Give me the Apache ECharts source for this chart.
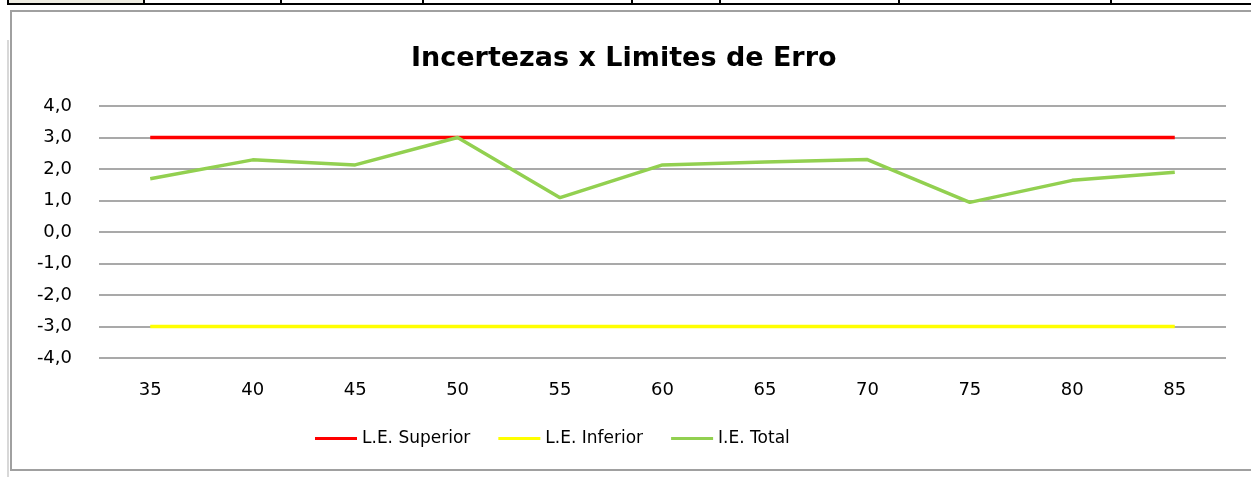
<!DOCTYPE html>
<html>
<head>
<meta charset="utf-8">
<style>
html,body{margin:0;padding:0;background:#fff;}
#main{width:1251px;height:477px;}
</style>
<script src="https://cdn.jsdelivr.net/npm/echarts@6/dist/echarts.min.js"></script>
</head>
<body>
<div id="main"></div>
<script>
var categories = ['35','40','45','50','55','60','65','70','75','80','85'];
var leSuperior = [3,3,3,3,3,3,3,3,3,3,3];
var leInferior = [-3,-3,-3,-3,-3,-3,-3,-3,-3,-3,-3];
var ieTotal = [1.69,2.29,2.13,3.0,1.09,2.13,2.22,2.30,0.94,1.64,1.90];
var cellDividers = [8,144,281,423,632,720,899,1111];

var font = 'DejaVu Sans';
var myChart = echarts.init(document.getElementById('main'));

var graphics = [
	// chart frame
	{type:'rect',shape:{x:7,y:40,width:2,height:437},style:{fill:'#d8d8d8'},z:-2},
	{type:'rect',shape:{x:11,y:11,width:1260,height:459},style:{fill:'#fff',stroke:'#a0a0a0',lineWidth:2},z:-1},
	// spreadsheet strip above
	{type:'rect',shape:{x:8,y:0,width:136,height:3},style:{fill:'#eeece1'},z:-1},
	{type:'rect',shape:{x:8,y:3,width:1243,height:2},style:{fill:'#000'},z:-1}
];
cellDividers.forEach(function(x){
	graphics.push({type:'rect',shape:{x:x-1,y:0,width:2,height:5},style:{fill:'#000'},z:-1});
});

var option = {
	animation:false,
	title:{
		text:'Incertezas x Limites de Erro',
		left:406,
		top:40,
		textStyle:{fontFamily:font,fontSize:27,fontWeight:'bold',color:'#000'}
	},
	legend:{
		bottom:25,
		left:310,
		icon:'rect',
		itemWidth:42,
		itemHeight:3,
		itemGap:28,
		textStyle:{fontFamily:font,fontSize:17,color:'#000'},
		data:['L.E. Superior','L.E. Inferior','I.E. Total']
	},
	grid:{left:99,right:25,top:106,bottom:119,containLabel:false},
	xAxis:{
		type:'category',
		data:categories,
		boundaryGap:true,
		axisLine:{show:false},
		axisTick:{show:false},
		axisLabel:{fontFamily:font,fontSize:18,color:'#000',margin:23}
	},
	yAxis:{
		type:'value',
		min:-4,
		max:4,
		interval:1,
		axisLine:{show:false},
		axisTick:{show:false},
		splitLine:{lineStyle:{color:'#8c8c8c',width:1.5}},
		axisLabel:{
			fontFamily:font,fontSize:18,color:'#000',margin:27,
			formatter:function(v){return v.toFixed(1).replace('.',',');}
		}
	},
	series:[
		{name:'L.E. Superior',type:'line',data:leSuperior,showSymbol:false,color:'#ff0000',lineStyle:{width:3.5,color:'#ff0000'}},
		{name:'L.E. Inferior',type:'line',data:leInferior,showSymbol:false,color:'#ffff00',lineStyle:{width:3.5,color:'#ffff00'}},
		{name:'I.E. Total',type:'line',data:ieTotal,showSymbol:false,color:'#92d050',lineStyle:{width:3.5,color:'#92d050'}}
	],
	graphic:graphics
};

myChart.setOption(option);
</script>
</body>
</html>
